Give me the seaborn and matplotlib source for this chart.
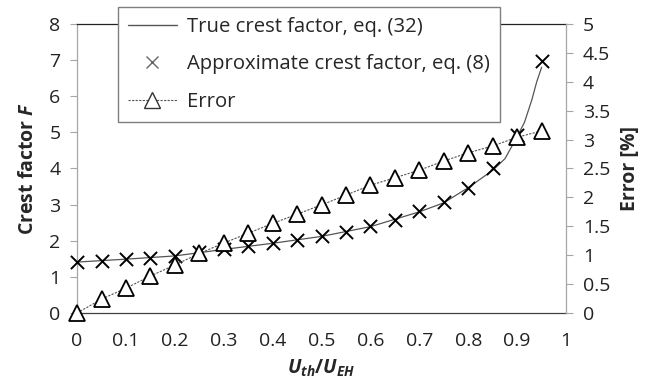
import matplotlib
matplotlib.use("Agg")
import matplotlib.pyplot as plt
import seaborn as sns
import pandas as pd
from matplotlib.ticker import FuncFormatter, MultipleLocator
from matplotlib.lines import Line2D

# ---- data ----
x_pts = [0.0, 0.05, 0.1, 0.15, 0.2, 0.25, 0.3, 0.35, 0.4, 0.45,
         0.5, 0.55, 0.6, 0.65, 0.7, 0.75, 0.8, 0.85, 0.9, 0.95]
approx_F = [1.42, 1.45, 1.49, 1.53, 1.59, 1.68, 1.78, 1.85, 1.93, 2.02,
            2.13, 2.23, 2.40, 2.58, 2.81, 3.06, 3.47, 4.00, 4.93, 6.98]
error_pct = [0.0, 0.24, 0.43, 0.64, 0.83, 1.03, 1.21, 1.38, 1.55, 1.71,
             1.87, 2.04, 2.21, 2.34, 2.47, 2.63, 2.77, 2.89, 3.04, 3.15]
true_x = [0.0, 0.1, 0.2, 0.3, 0.4, 0.5, 0.6, 0.7, 0.75, 0.8, 0.85,
          0.875, 0.9, 0.915, 0.93, 0.94, 0.95]
true_F = [1.41, 1.49, 1.58, 1.76, 1.93, 2.12, 2.39, 2.80, 3.05, 3.47, 3.95,
          4.27, 4.88, 5.28, 5.90, 6.40, 6.80]

labels = ["True crest factor, eq. (32)", "Approximate crest factor, eq. (8)", "Error"]

sns.set_style("white")
FONT = "Open Sans"
plt.rcParams["font.family"] = [FONT, "DejaVu Sans"]
plt.rcParams["mathtext.fontset"] = "custom"
plt.rcParams["mathtext.it"] = f"{FONT}:bold:italic"
plt.rcParams["mathtext.rm"] = f"{FONT}:bold"
plt.rcParams["mathtext.bf"] = f"{FONT}:bold"

FS = 14
LFS = 14.6
fig = plt.figure(figsize=(6.59, 3.92), dpi=100)
ax = fig.add_axes([0.117, 0.2015, 0.742, 0.7375])
ax2 = ax.twinx()

df_true = pd.DataFrame({"x": true_x, "F": true_F})
df_pts = pd.DataFrame({"x": x_pts, "F": approx_F, "err": error_pct})

sns.lineplot(data=df_true, x="x", y="F", ax=ax, color="#555555", lw=0.9,
             sort=False, estimator=None, zorder=2)
sns.scatterplot(data=df_pts, x="x", y="F", ax=ax, color="black",
                marker="x", s=90, linewidths=1.4, zorder=3, clip_on=False)
sns.lineplot(data=df_pts, x="x", y="err", ax=ax2, color="#555555", lw=0.8,
             linestyle=(0, (2, 1.2)), marker="^", markersize=11,
             markerfacecolor="white", markeredgecolor="black", markeredgewidth=1.3,
             sort=False, estimator=None, clip_on=False)

ax.set_xlim(0, 1)
ax.set_ylim(0, 8)
ax2.set_ylim(0, 5)
ax.xaxis.set_major_locator(MultipleLocator(0.1))
ax.yaxis.set_major_locator(MultipleLocator(1))
ax2.yaxis.set_major_locator(MultipleLocator(0.5))
fmt = FuncFormatter(lambda v, p: f"{round(v, 2):g}")
ax.xaxis.set_major_formatter(fmt)
ax.yaxis.set_major_formatter(fmt)
ax2.yaxis.set_major_formatter(fmt)

for a in (ax, ax2):
    a.tick_params(axis="both", which="major", labelsize=FS, length=5,
                  width=0.8, color="#a6a6a6", direction="out", labelcolor="#222222")
ax.tick_params(axis="x", color="#404040", pad=9)
ax.tick_params(axis="y", left=True, pad=7)
ax2.tick_params(axis="y", right=True, pad=7)

ax.spines["top"].set_color("#222222")
ax.spines["bottom"].set_color("#404040")
ax.spines["left"].set_color("#a6a6a6")
ax.spines["right"].set_visible(False)
for s in ("top", "bottom", "left"):
    ax.spines[s].set_linewidth(0.9)
ax2.spines["top"].set_visible(False)
ax2.spines["bottom"].set_visible(False)
ax2.spines["left"].set_visible(False)
ax2.spines["right"].set_color("#a6a6a6")
ax2.spines["right"].set_linewidth(0.9)

ax.set_xlabel(r"$U_{th}/U_{EH}$", fontsize=FS, labelpad=5)
ax.set_ylabel(r"Crest factor $F$", fontsize=FS, fontweight="bold", labelpad=8)
ax2.set_ylabel("Error [%]", fontsize=FS, fontweight="bold", labelpad=7)

handles = [
    Line2D([], [], color="#555555", lw=1.0),
    Line2D([], [], color="#666666", lw=0, marker="x", markersize=9, markeredgewidth=1.0),
    Line2D([], [], color="#555555", lw=0.8, linestyle=(0, (2, 1.2)), marker="^",
           markersize=11, markerfacecolor="white", markeredgecolor="#333333",
           markeredgewidth=1.0),
]
leg = fig.legend(handles, labels, loc="upper left", bbox_to_anchor=(0.179, 0.982),
                 fontsize=LFS, frameon=True, fancybox=False, framealpha=1,
                 edgecolor="#7f7f7f", handlelength=2.4, labelspacing=0.85,
                 borderpad=0.5, handletextpad=0.5, borderaxespad=0)
leg.get_frame().set_linewidth(1.0)

fig.savefig("out.png", dpi=100)
